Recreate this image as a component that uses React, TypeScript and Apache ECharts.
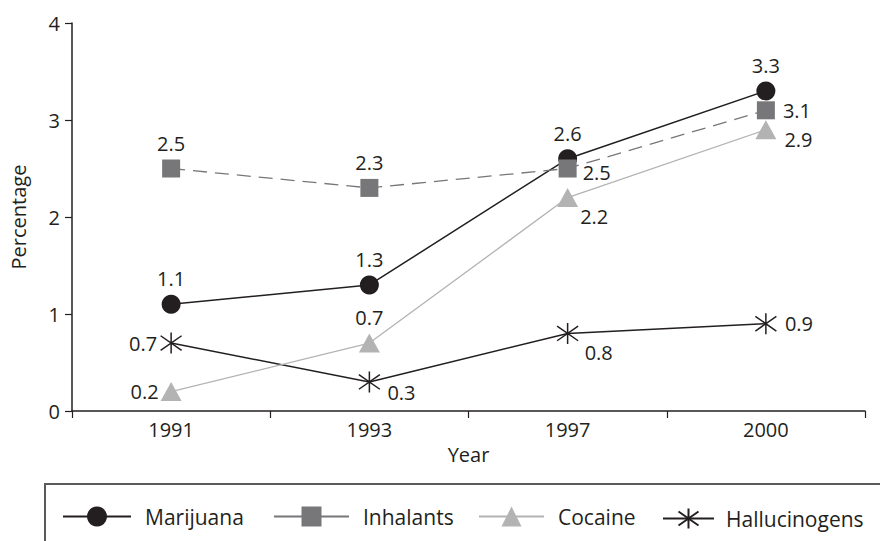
import React, { useEffect, useRef } from "react";
import * as echarts from "echarts";

const years = ["1991", "1993", "1997", "2000"];
const marijuana = [1.1, 1.3, 2.6, 3.3];
const inhalants = [2.5, 2.3, 2.5, 3.1];
const cocaine = [0.2, 0.7, 2.2, 2.9];
const hallucinogens = [0.7, 0.3, 0.8, 0.9];
const yTicks = [0, 1, 2, 3, 4];
const seriesNames = ["Marijuana", "Inhalants", "Cocaine", "Hallucinogens"];

const FONT = "'Open Sans', 'Noto Sans', sans-serif";
const INK = "#231f20";
const STAR = "path://M10,0 L10,20 M0,3 L20,17 M0,17 L20,3";

function lbl(pos: string, offset: number[] = [0, 0], distance = 7) {
  return {
    show: true,
    position: pos,
    distance,
    offset,
    color: INK,
    fontSize: 20,
    fontFamily: FONT,
  };
}

function pt(v: number, pos?: string, offset?: number[], distance?: number) {
  if (!pos) return { value: v };
  const label: any = { position: pos };
  if (offset) label.offset = offset;
  if (distance !== undefined) label.distance = distance;
  return { value: v, label };
}

function legendFor(name: string, left: number, itemWidth: number, gap: number) {
  return {
    data: [name],
    left,
    top: 506,
    padding: 0,
    itemWidth,
    itemHeight: 25,
    lineStyle: { type: "solid" },
    textStyle: {
      fontSize: 21,
      color: INK,
      fontFamily: FONT,
      padding: [0, 0, 0, gap],
    },
  };
}

export default function App() {
  const ref = useRef<HTMLDivElement>(null);
  useEffect(() => {
    if (!ref.current) return;
    const chart = echarts.init(ref.current, null, { renderer: "svg" });
    chart.setOption({
      animation: false,
      textStyle: { fontFamily: FONT },
      grid: { left: 70, right: 15, top: 23, bottom: 130 },
      xAxis: {
        type: "category",
        data: years,
        boundaryGap: true,
        name: "Year",
        nameLocation: "middle",
        nameGap: 33,
        nameTextStyle: { fontSize: 20, color: INK, fontFamily: FONT },
        axisLine: { lineStyle: { color: INK, width: 1.5 } },
        axisTick: { show: true, length: 7, lineStyle: { color: INK, width: 1.2 } },
        axisLabel: { fontSize: 20, color: INK, margin: 8, fontFamily: FONT },
      },
      yAxis: {
        type: "value",
        min: yTicks[0],
        max: yTicks[yTicks.length - 1],
        interval: 1,
        name: "Percentage",
        nameLocation: "middle",
        nameGap: 44,
        nameTextStyle: { fontSize: 20, color: INK, fontFamily: FONT },
        axisLine: { show: true, lineStyle: { color: INK, width: 1.5 } },
        axisTick: { show: true, length: 7, lineStyle: { color: INK, width: 1.2 } },
        axisLabel: { fontSize: 20, color: INK, margin: 12, fontFamily: FONT },
        splitLine: { show: false },
      },
      legend: [
        legendFor(seriesNames[0], 62, 68, 9),
        legendFor(seriesNames[1], 273, 75, 9),
        legendFor(seriesNames[2], 478, 65, 9),
        legendFor(seriesNames[3], 662, 51, 7),
      ],
      graphic: [
        {
          type: "rect",
          shape: { x: 45, y: 484, width: 870, height: 80 },
          style: { fill: "none", stroke: "#5a5a5a", lineWidth: 2 },
          silent: true,
          z: -1,
        },
      ],
      series: [
        {
          name: seriesNames[0],
          type: "line",
          data: marijuana.map((v) => pt(v)),
          symbol: "circle",
          symbolSize: 19,
          z: 5,
          lineStyle: { color: INK, width: 1.5 },
          itemStyle: { color: INK },
          label: lbl("top", [0, 0], 6),
        },
        {
          name: seriesNames[1],
          type: "line",
          data: inhalants.map((v, i) =>
            i === 2 ? pt(v, "right", [0, 4], 6) : i === 3 ? pt(v, "right", [0, 0], 8) : pt(v)
          ),
          symbol: "rect",
          symbolSize: 18,
          z: 6,
          lineStyle: { color: "#77777a", width: 1.3, type: [14, 8] },
          itemStyle: { color: "#77777a" },
          label: lbl("top", [0, 0], 6),
        },
        {
          name: seriesNames[2],
          type: "line",
          data: cocaine.map((v, i) =>
            i === 0
              ? pt(v, "left", [0, 0], 2)
              : i === 2
              ? pt(v, "right", [0, 19], 2)
              : i === 3
              ? pt(v, "right", [0, 10], 8)
              : pt(v)
          ),
          symbol: "triangle",
          symbolSize: [21, 19],
          z: 4,
          lineStyle: { color: "#b3b3b3", width: 1.3 },
          itemStyle: { color: "#b3b3b3" },
          label: lbl("top", [0, 0], 6),
        },
        {
          name: seriesNames[3],
          type: "line",
          data: hallucinogens.map((v, i) =>
            i === 0
              ? pt(v, "left", [0, 0], 1)
              : i === 1
              ? pt(v, "right", [0, 11], 5)
              : i === 2
              ? pt(v, "right", [0, 19], 4)
              : pt(v, "right", [0, 0], 6)
          ),
          symbol: STAR,
          symbolSize: 21,
          z: 3,
          lineStyle: { color: INK, width: 1.5 },
          itemStyle: { color: "none", borderColor: INK, borderWidth: 1.5 },
          label: lbl("right", [0, 0], 5),
        },
      ],
    });
    return () => chart.dispose();
  }, []);
  return (
    <div
      ref={ref}
      style={{ width: 880, height: 541, position: "absolute", left: 0, top: 0 }}
    />
  );
}
